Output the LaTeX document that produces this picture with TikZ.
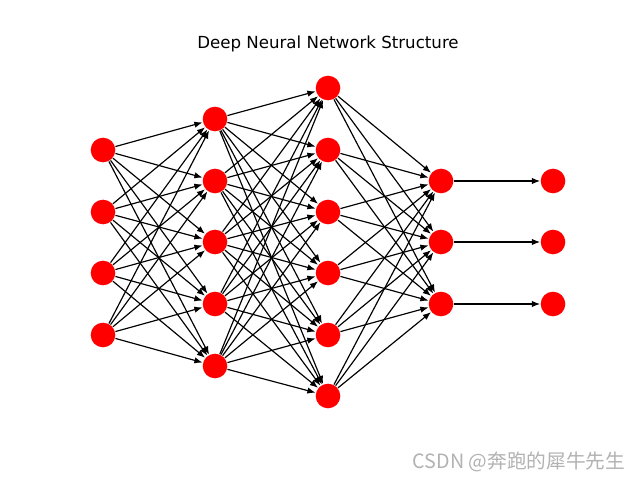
\documentclass[tikz,border=0pt]{standalone}
\usepackage{fontspec}
\setmainfont{DejaVu Sans}
\newfontfamily\cjkfont{Noto Sans CJK SC}
\usetikzlibrary{arrows.meta,positioning}
\tikzset{
	netstyle/.style={
		>={Latex[length=7pt,width=5.4pt]},
		line width=1pt,
		x=0.03cm, y=-0.03cm}}

\begin{document}
\begin{tikzpicture}[netstyle,
	neuron/.style={circle, fill=red, draw=none, inner sep=0pt, minimum size=21pt},
	link/.style={->, black},
	]
	\useasboundingbox (0,0) rectangle (640,480);

	\node[font=\fontsize{14.2}{16}\selectfont] (title) at (328,44) {Deep Neural Network Structure};

	% input layer
	\foreach \i/\y in {1/150, 2/212, 3/273, 4/335}
		\node[neuron] (a\i) at (103,\y) {};
	% hidden layers
	\foreach \i/\y in {1/119, 2/181, 3/242, 4/304, 5/366}
		\node[neuron] (b\i) at (215,\y) {};
	\foreach \i/\y in {1/88, 2/150, 3/212, 4/273, 5/335, 6/396}
		\node[neuron] (c\i) at (328,\y) {};
	\foreach \i/\y in {1/181, 2/242, 3/304}
		\node[neuron] (d\i) at (441,\y) {};
	% output layer
	\foreach \i/\y in {1/181, 2/242, 3/304}
		\node[neuron] (e\i) at (553,\y) {};

	\foreach \s in {1,...,4}
		\foreach \t in {1,...,5}
			\draw[link] (a\s) -- (b\t);
	\foreach \s in {1,...,5}
		\foreach \t in {1,...,6}
			\draw[link] (b\s) -- (c\t);
	\foreach \s in {1,...,6}
		\foreach \t in {1,...,3}
			\draw[link] (c\s) -- (d\t);
	\foreach \s in {1,...,3}
		\draw[link] (d\s) -- (e\s);

	\node[text=black!30, font=\cjkfont\fontsize{16.8}{18}\selectfont] (mark) at (519,462) {CSDN @奔跑的犀牛先生};

\end{tikzpicture}
\end{document}
